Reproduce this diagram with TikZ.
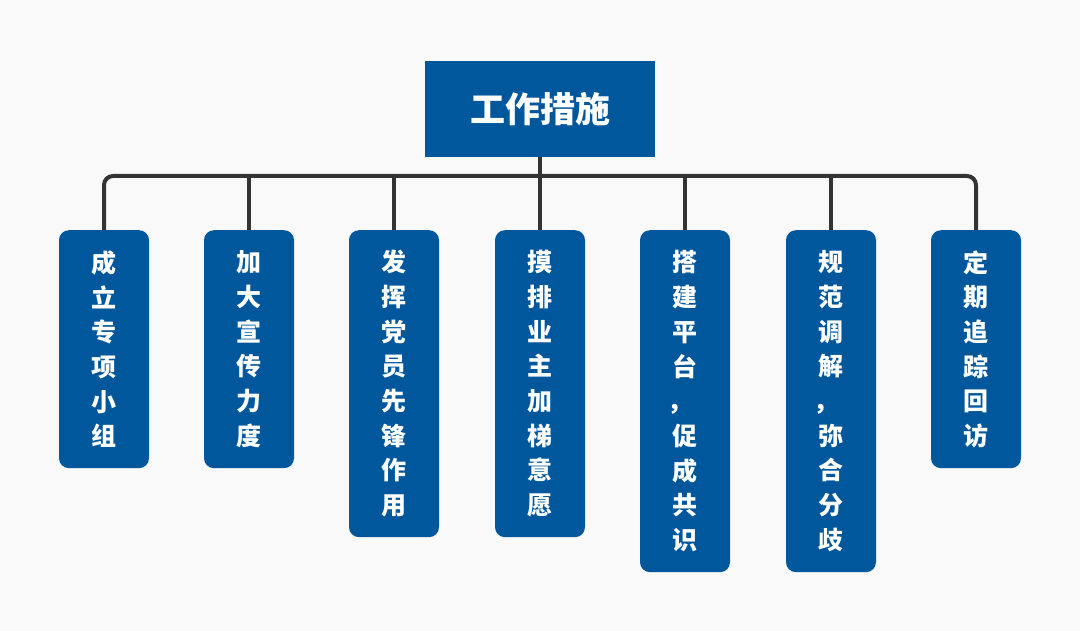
\documentclass[tikz,border=0pt]{standalone}
\usepackage{fontspec}
\newfontfamily\cjk{Noto Sans CJK SC}
\definecolor{boxblue}{HTML}{00579B}
\definecolor{linegray}{HTML}{333333}
\definecolor{bgcol}{HTML}{F9F9F9}
\newcommand{\vcomma}{\hspace*{-10pt}，}
\tikzset{
  topbox/.style={fill=boxblue, text=white, minimum width=230pt, minimum height=96pt,
    inner sep=0pt, font=\cjk\bfseries\fontsize{35}{40}\selectfont},
  childbox/.style={fill=boxblue, text=white, rounded corners=10pt, minimum width=90pt,
    inner sep=0pt, anchor=north, align=center, font=\cjk\bfseries\fontsize{25}{34.7}\selectfont},
  conn/.style={draw=linegray, line width=4pt}
}
\begin{document}
\begin{tikzpicture}[x=1pt,y=-1pt]
\fill[bgcol] (0,0) rectangle (1080,631);
\useasboundingbox (0,0) rectangle (1080,631);
\coordinate (bus) at (540,176);
\node[topbox] (top) at (540,109) {工作措施};
\node[childbox, minimum height=238pt] (c1) at (104,230) {成\\立\\专\\项\\小\\组};
\node[childbox, minimum height=238pt] (c2) at (249,230) {加\\大\\宣\\传\\力\\度};
\node[childbox, minimum height=307pt] (c3) at (394,230) {发\\挥\\党\\员\\先\\锋\\作\\用};
\node[childbox, minimum height=307pt] (c4) at (540,230) {摸\\排\\业\\主\\加\\梯\\意\\愿};
\node[childbox, minimum height=342pt] (c5) at (685,230) {搭\\建\\平\\台\\\vcomma\\促\\成\\共\\识};
\node[childbox, minimum height=342pt] (c6) at (831,230) {规\\范\\调\\解\\\vcomma\\弥\\合\\分\\歧};
\node[childbox, minimum height=238pt] (c7) at (976,230) {定\\期\\追\\踪\\回\\访};
\draw[conn, rounded corners=9pt] (c1.north) |- (bus) -| (c7.north);
\draw[conn] (top.south) -- (c4.north);
\draw[conn] (c2.north) -- (c2.north |- bus);
\draw[conn] (c3.north) -- (c3.north |- bus);
\draw[conn] (c5.north) -- (c5.north |- bus);
\draw[conn] (c6.north) -- (c6.north |- bus);
\end{tikzpicture}
\end{document}
